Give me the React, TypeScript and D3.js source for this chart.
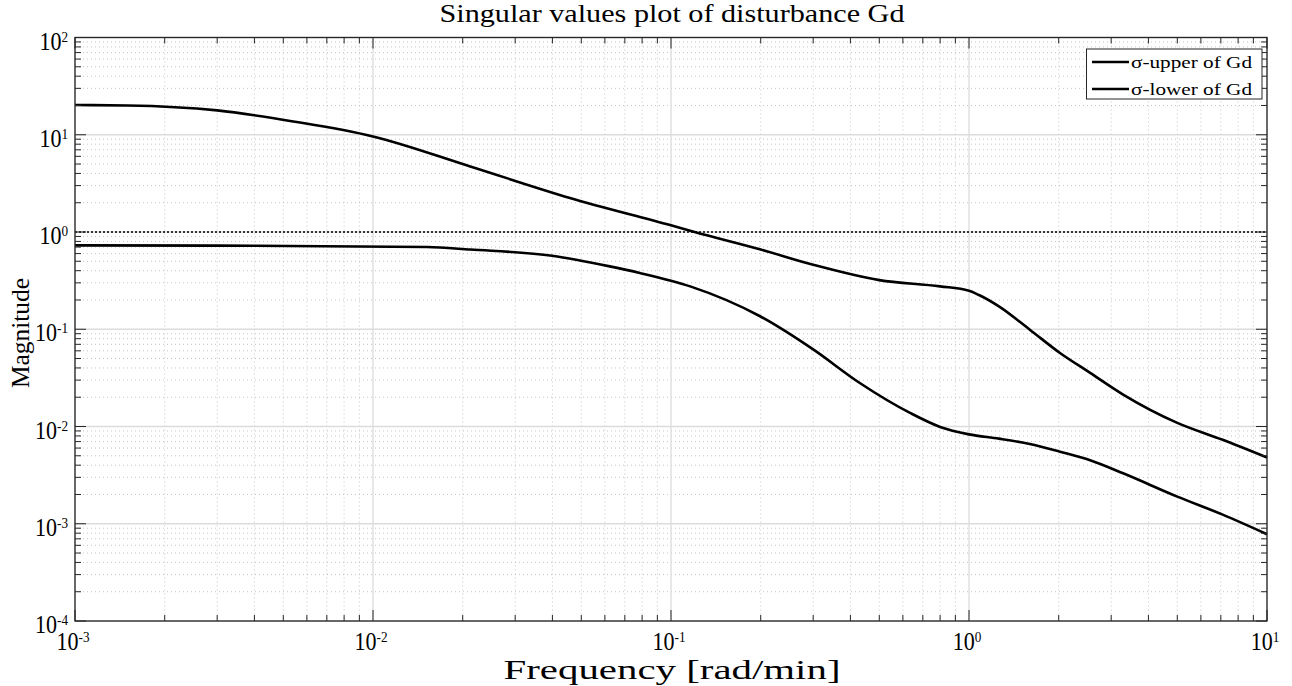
import React from "react";
import * as d3 from "d3";

const upperFreq = [0.001, 0.0015, 0.003, 0.0054, 0.01, 0.0212, 0.0458, 0.1, 0.12, 0.2, 0.3, 0.5, 0.8, 1.0, 1.08, 1.26, 1.6, 2.02, 2.55, 3.29, 5, 7.1, 10];
const upperMag = [20.2, 20.0, 17.8, 13.7, 9.6, 4.72, 2.24, 1.17, 1.0, 0.66, 0.46, 0.32, 0.276, 0.249, 0.225, 0.172, 0.099, 0.057, 0.0356, 0.0213, 0.0109, 0.0073, 0.0048];

const lowerFreq = [0.001, 0.003, 0.0152, 0.0212, 0.0399, 0.0623, 0.0786, 0.116, 0.199, 0.3, 0.43, 0.634, 0.8, 1.0, 1.26, 1.6, 2.02, 2.55, 3.29, 5, 7.1, 10];
const lowerMag = [0.728, 0.725, 0.70, 0.66, 0.57, 0.443, 0.379, 0.276, 0.136, 0.062, 0.028, 0.0138, 0.0099, 0.0083, 0.0075, 0.0066, 0.0055, 0.0045, 0.0033, 0.0019, 0.00124, 0.00078];

const xTickExps = [-3, -2, -1, 0, 1];
const yTickExps = [-4, -3, -2, -1, 0, 1, 2];
const legendLabels = ["σ-upper of Gd", "σ-lower of Gd"];
const titleText = "Singular values plot of disturbance Gd";
const xLabel = "Frequency [rad/min]";
const yLabel = "Magnitude";

const W = 1292, H = 686;
const L = 75, R = 1267, T = 37.5, B = 621;
const font = "'Liberation Serif', 'Times New Roman', serif";

function PowLabel({ x, y, exp, anchor }: { x: number; y: number; exp: number; anchor: "middle" | "end" }) {
  return (
    <g transform={`translate(${x},${y}) scale(0.88,1)`}>
      <text x={0} y={0} textAnchor={anchor} fontSize={25} fill="#000">
        10<tspan dy={-8} fontSize={15}>{exp}</tspan>
      </text>
    </g>
  );
}

export default function App() {
  const x = d3.scaleLog().domain([1e-3, 1e1]).range([L, R]);
  const y = d3.scaleLog().domain([1e-4, 1e2]).range([B, T]);

  const minorX: number[] = [];
  for (let e = -3; e < 1; e++) for (let k = 2; k <= 9; k++) minorX.push(k * Math.pow(10, e));
  const minorY: number[] = [];
  for (let e = -4; e < 2; e++) for (let k = 2; k <= 9; k++) minorY.push(k * Math.pow(10, e));

  const line = d3.line<[number, number]>()
    .x(d => x(d[0]))
    .y(d => y(d[1]))
    .curve(d3.curveMonotoneX);

  const upper = upperFreq.map((f, i) => [f, upperMag[i]] as [number, number]);
  const lower = lowerFreq.map((f, i) => [f, lowerMag[i]] as [number, number]);

  const axisColor = "#262626";

  return (
    <svg width={W} height={H} style={{ position: "absolute", left: 0, top: 0, background: "#fff" }} fontFamily={font}>
      <rect x={0} y={0} width={W} height={H} fill="#fff" />
      {minorX.map((v, i) => (
        <line key={"mx" + i} x1={x(v)} x2={x(v)} y1={T} y2={B} stroke="#c4c4c4" strokeWidth={1} strokeDasharray="1,3" />
      ))}
      {minorY.map((v, i) => (
        <line key={"my" + i} x1={L} x2={R} y1={y(v)} y2={y(v)} stroke="#c4c4c4" strokeWidth={1} strokeDasharray="1,3" />
      ))}
      {xTickExps.map(e => (
        <line key={"gx" + e} x1={x(Math.pow(10, e))} x2={x(Math.pow(10, e))} y1={T} y2={B} stroke="#dcdcdc" strokeWidth={1.3} />
      ))}
      {yTickExps.map(e => (
        <line key={"gy" + e} x1={L} x2={R} y1={y(Math.pow(10, e))} y2={y(Math.pow(10, e))} stroke="#dcdcdc" strokeWidth={1.3} />
      ))}
      <line x1={L} x2={R} y1={y(1)} y2={y(1)} stroke="#000" strokeWidth={1.6} strokeDasharray="2,2" />
      <path d={line(upper) || ""} fill="none" stroke="#000" strokeWidth={2.6} strokeLinejoin="round" />
      <path d={line(lower) || ""} fill="none" stroke="#000" strokeWidth={2.6} strokeLinejoin="round" />
      {minorX.map((v, i) => (
        <g key={"tmx" + i} stroke={axisColor} strokeWidth={1}>
          <line x1={x(v)} x2={x(v)} y1={B} y2={B - 6} />
          <line x1={x(v)} x2={x(v)} y1={T} y2={T + 6} />
        </g>
      ))}
      {xTickExps.map(e => (
        <g key={"tx" + e} stroke={axisColor} strokeWidth={1}>
          <line x1={x(Math.pow(10, e))} x2={x(Math.pow(10, e))} y1={B} y2={B - 11} />
          <line x1={x(Math.pow(10, e))} x2={x(Math.pow(10, e))} y1={T} y2={T + 11} />
        </g>
      ))}
      {minorY.map((v, i) => (
        <g key={"tmy" + i} stroke={axisColor} strokeWidth={1}>
          <line x1={L} x2={L + 6} y1={y(v)} y2={y(v)} />
          <line x1={R} x2={R - 6} y1={y(v)} y2={y(v)} />
        </g>
      ))}
      {yTickExps.map(e => (
        <g key={"ty" + e} stroke={axisColor} strokeWidth={1}>
          <line x1={L} x2={L + 11} y1={y(Math.pow(10, e))} y2={y(Math.pow(10, e))} />
          <line x1={R} x2={R - 11} y1={y(Math.pow(10, e))} y2={y(Math.pow(10, e))} />
        </g>
      ))}
      <rect x={L} y={T} width={R - L} height={B - T} fill="none" stroke={axisColor} strokeWidth={1.3} />
      {xTickExps.map(e => (
        <PowLabel key={"lx" + e} x={x(Math.pow(10, e)) - 2} y={650} exp={e} anchor="middle" />
      ))}
      {yTickExps.map(e => (
        <PowLabel key={"ly" + e} x={68} y={y(Math.pow(10, e)) + 12} exp={e} anchor="end" />
      ))}
      <text x={672} y={22} textAnchor="middle" fontSize={26} textLength={465} lengthAdjust="spacingAndGlyphs" fill="#000">{titleText}</text>
      <text x={672} y={679} textAnchor="middle" fontSize={27} textLength={337} lengthAdjust="spacingAndGlyphs" fill="#000">{xLabel}</text>
      <text transform={`translate(29,333) rotate(-90)`} textAnchor="middle" fontSize={25} textLength={110} lengthAdjust="spacingAndGlyphs" fill="#000">{yLabel}</text>
      <rect x={1086.5} y={49} width={175.5} height={50} fill="#fff" stroke={axisColor} strokeWidth={1} />
      {legendLabels.map((lab, i) => (
        <g key={"lg" + i}>
          <line x1={1092} x2={1129} y1={62 + i * 27} y2={62 + i * 27} stroke="#000" strokeWidth={2.6} />
          <text x={1131} y={68 + i * 26.5} fontSize={17} textLength={121} lengthAdjust="spacingAndGlyphs" fill="#000">{lab}</text>
        </g>
      ))}
    </svg>
  );
}
